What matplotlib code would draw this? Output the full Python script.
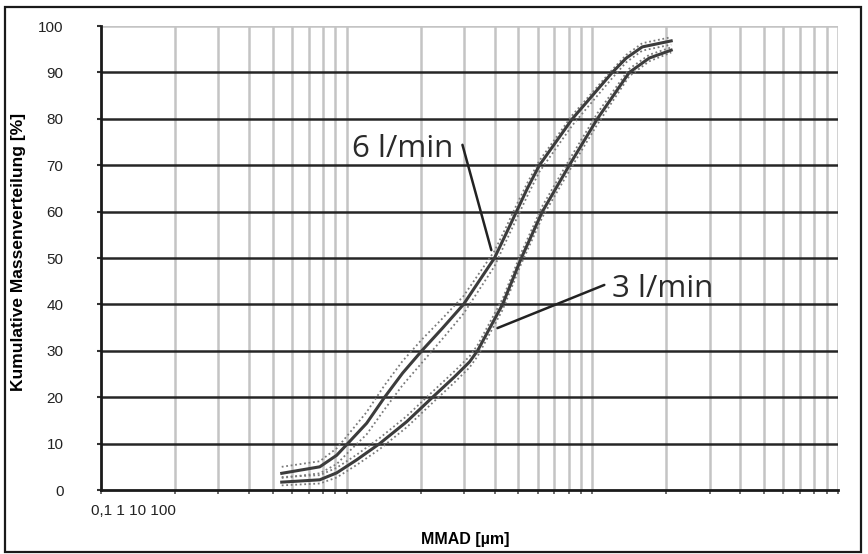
import matplotlib
matplotlib.use("Agg")
import matplotlib.pyplot as plt
from matplotlib.patches import Rectangle

# MMAD [µm] and cumulative mass [%]
size_6 = [0.544, 0.777, 0.911, 1.009, 1.206, 1.427, 1.689, 2.037, 2.456, 2.989,
          3.996, 4.47, 4.91, 5.44, 6.09, 8.29, 12.06, 13.75, 15.97, 20.95]
mass_6 = [3.6, 5.0, 7.5, 10, 14.4, 20, 25.2, 30.2, 34.9, 40,
          50, 55.4, 60, 65, 70, 80, 90, 93.1, 95.5, 96.8]
rep6_a = [5.0, 6.2, 9.0, 11.8, 16.8, 22.6, 27.8, 32.6, 37.0, 41.8,
          51.5, 56.8, 61.4, 66.2, 71.0, 80.8, 90.6, 93.8, 96.3, 97.6]
rep6_b = [2.6, 3.6, 5.6, 8.0, 12.0, 17.4, 22.6, 27.6, 32.6, 38.0,
          48.2, 53.8, 58.4, 63.4, 68.6, 78.6, 88.8, 92.2, 94.7, 96.0]

size_3 = [0.544, 0.777, 0.911, 1.098, 1.362, 1.753, 2.237, 2.748, 3.162, 3.408,
          4.31, 5.14, 6.26, 8.06, 10.48, 14.14, 17.05, 20.95]
mass_3 = [1.7, 2.2, 3.7, 6.5, 10, 14.7, 20, 24.4, 27.6, 30,
          40, 50, 60, 70, 80, 90, 93.1, 94.8]
rep3_a = [2.8, 3.2, 4.8, 7.6, 11.2, 15.9, 21.2, 25.6, 28.8, 31.2,
          41.2, 51.2, 61.2, 71.2, 81.2, 90.8, 93.8, 95.4]
rep3_b = [1.0, 1.4, 2.7, 5.4, 8.8, 13.5, 18.8, 23.2, 26.4, 28.8,
          38.8, 48.8, 58.8, 68.8, 78.8, 89.2, 92.4, 94.3]

y_ticks = [0, 10, 20, 30, 40, 50, 60, 70, 80, 90, 100]
x_decades = [0.1, 1, 10, 100]
x_label_text = "0,1 1 10 100"

plt.rcParams["font.family"] = ["Liberation Sans", "DejaVu Sans"]
label_font = ["Open Sans", "DejaVu Sans"]

fig = plt.figure(figsize=(8.68, 5.54), dpi=100)
ax = fig.add_axes([0.1164, 0.1155, 0.849, 0.8375])

ax.set_xscale("log")
ax.set_xlim(0.1, 100)
ax.set_ylim(0, 100)

# Grid: light vertical log lines, dark horizontal lines
minor_x = [m * d for d in x_decades[:-1] for m in range(2, 10)]
for xv in minor_x + x_decades[1:]:
    ax.axvline(xv, color="#c4c4c4", lw=1.8, zorder=1)
for yv in y_ticks[1:-1]:
    ax.axhline(yv, color="#262626", lw=1.8, zorder=2)
ax.axhline(100, color="#c4c4c4", lw=1.8, zorder=1)

# Replicate measurements (dotted) and main curves
for rep in (rep6_a, rep6_b):
    ax.plot(size_6, rep, color="#7a7a7a", lw=1.3, ls=(0, (1, 1.5)), zorder=3)
for rep in (rep3_a, rep3_b):
    ax.plot(size_3, rep, color="#7a7a7a", lw=1.3, ls=(0, (1, 1.5)), zorder=3)
ax.plot(size_6, mass_6, color="#3c3c3c", lw=2.2, zorder=4)
ax.plot(size_3, mass_3, color="#3c3c3c", lw=2.2, zorder=4)

# Labels on the curves with leader lines
ax.text(1.048, 71.8, "6 l/min", fontsize=22.5, family=label_font,
        color="#2a2a2a", ha="left", va="baseline", zorder=6)
ax.annotate("", xy=(3.88, 51.7), xytext=(2.96, 74.4),
            arrowprops=dict(arrowstyle="-", color="#222222", lw=1.8,
                            shrinkA=0, shrinkB=0))
ax.text(12.06, 41.6, "3 l/min", fontsize=22.5, family=label_font,
        color="#2a2a2a", ha="left", va="baseline", zorder=6)
ax.annotate("", xy=(4.11, 34.9), xytext=(11.19, 44.2),
            arrowprops=dict(arrowstyle="-", color="#222222", lw=1.8,
                            shrinkA=0, shrinkB=0))

# Axes styling
for side in ("top", "right"):
    ax.spines[side].set_visible(False)
for side in ("left", "bottom"):
    ax.spines[side].set_color("#1a1a1a")
    ax.spines[side].set_linewidth(2)
    ax.spines[side].set_zorder(5)

ax.set_yticks(y_ticks)
ax.set_yticklabels([str(v) for v in y_ticks])
ax.tick_params(axis="y", length=3, width=1.5, color="#333333", labelsize=11,
               pad=24, labelcolor="#222222")
ax.set_xticks(x_decades)
ax.set_xticklabels([])
ax.set_xticks(minor_x, minor=True)
ax.set_xticklabels([], minor=True)
ax.tick_params(axis="x", which="both", length=3, width=1.2, color="#555555")

ax.text(-0.0136, -0.045, x_label_text, transform=ax.transAxes, fontsize=11,
        color="#222222", ha="left", va="center")
fig.text(0.0215, 0.545, "Kumulative Massenverteilung [%]", fontsize=12.5,
         fontweight="bold", rotation=90, ha="center", va="center")
fig.text(0.5357, 0.027, "MMAD [µm]", fontsize=11.5, fontweight="bold",
         ha="center", va="center")

# Outer frame
fig.patches.append(Rectangle((5 / 868, 2 / 554), 856 / 868, 545 / 554,
                             transform=fig.transFigure, fill=False,
                             edgecolor="#1a1a1a", lw=1.6))

fig.savefig("out.png", dpi=100)
